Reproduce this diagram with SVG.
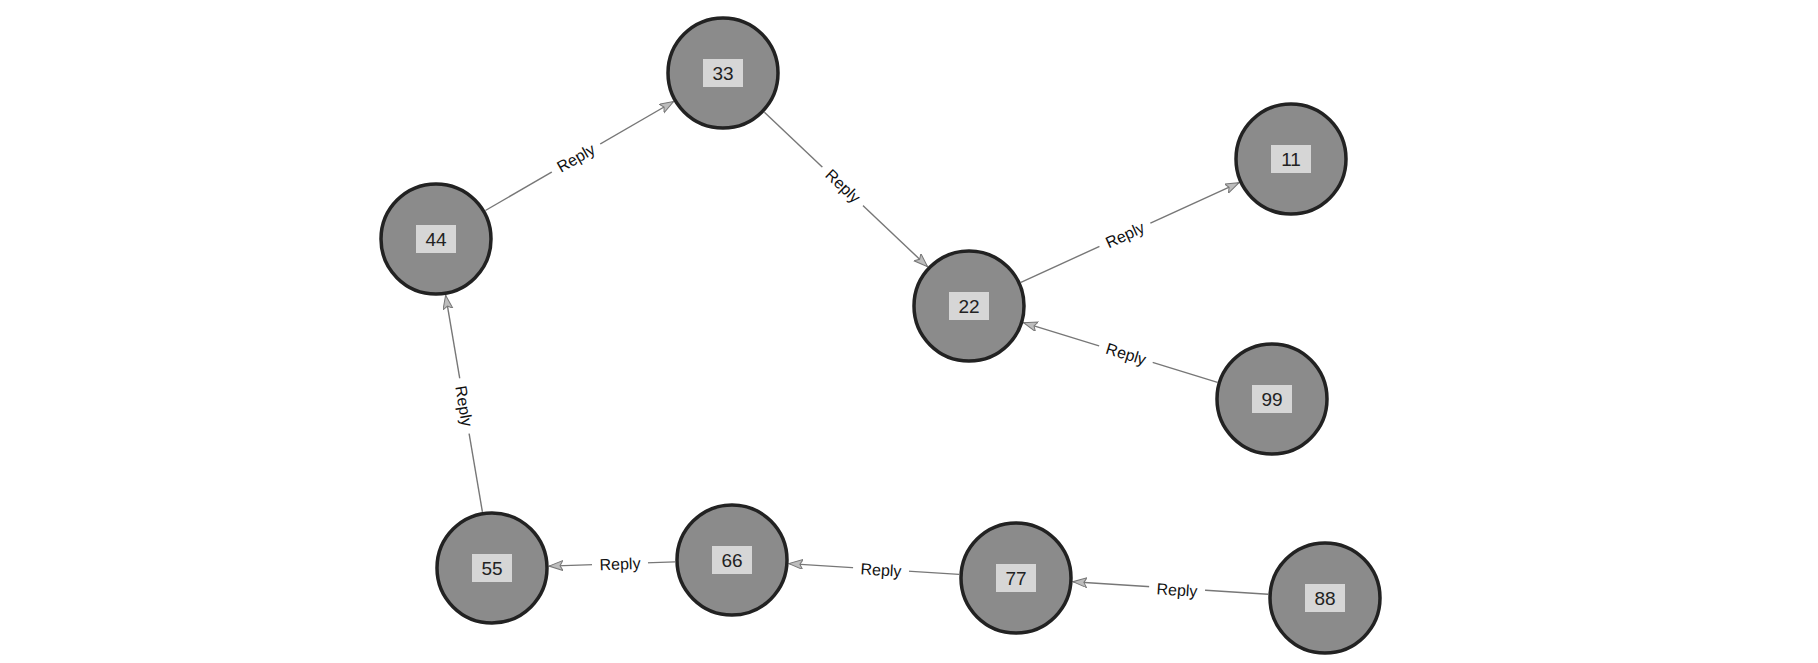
<svg xmlns="http://www.w3.org/2000/svg" width="1818" height="663" viewBox="0 0 1818 663">
<defs>
<style>
.node circle{fill:#8b8b8b;stroke:#222;stroke-width:3.5}
.node rect{fill:#d6d6d6}
.node text{font-family:"Liberation Sans",Arial,sans-serif;font-size:19px;fill:#222;text-anchor:middle;dominant-baseline:central}
.edge line{stroke:#777;stroke-width:1.4;marker-end:url(#arr)}
.lbl rect{fill:#fff}
.lbl text{font-family:"Liberation Sans",Arial,sans-serif;font-size:16px;fill:#111;text-anchor:middle;dominant-baseline:central}
</style>
<marker id="arr" markerUnits="userSpaceOnUse" markerWidth="16" markerHeight="12" refX="14" refY="5" orient="auto">
<path d="M0,0 L14,5 L0,10 L3,5 Z" fill="#bdbdbd" stroke="#777" stroke-width="1"/>
</marker>
</defs>
<rect width="1818" height="663" fill="#fff"/>
<g id="connectors">
<g class="edge"><line x1="485.4" y1="210.5" x2="673.6" y2="101.5"/></g>
<g class="lbl" transform="translate(576,158) rotate(-30)"><rect x="-28" y="-10" width="56" height="20"/><text>Reply</text></g>
<g class="edge"><line x1="764.4" y1="112.2" x2="927.6" y2="266.8"/></g>
<g class="lbl" transform="translate(843,186) rotate(43.4)"><rect x="-28" y="-10" width="56" height="20"/><text>Reply</text></g>
<g class="edge"><line x1="1020.9" y1="282.3" x2="1239.1" y2="182.7"/></g>
<g class="lbl" transform="translate(1125,235) rotate(-24.5)"><rect x="-28" y="-10" width="56" height="20"/><text>Reply</text></g>
<g class="edge"><line x1="1217.5" y1="382.3" x2="1023.5" y2="322.7"/></g>
<g class="lbl" transform="translate(1126,354) rotate(17.1)"><rect x="-28" y="-10" width="56" height="20"/><text>Reply</text></g>
<g class="edge"><line x1="482.4" y1="511.8" x2="445.6" y2="295.2"/></g>
<g class="lbl" transform="translate(464,406) rotate(80.3)"><rect x="-28" y="-10" width="56" height="20"/><text>Reply</text></g>
<g class="edge"><line x1="675" y1="561.9" x2="549" y2="566.1"/></g>
<g class="lbl" transform="translate(620,564) rotate(-1.9)"><rect x="-28" y="-10" width="56" height="20"/><text>Reply</text></g>
<g class="edge"><line x1="959.1" y1="574.4" x2="788.9" y2="563.6"/></g>
<g class="lbl" transform="translate(881,570) rotate(3.6)"><rect x="-28" y="-10" width="56" height="20"/><text>Reply</text></g>
<g class="edge"><line x1="1268.1" y1="594.3" x2="1072.9" y2="581.7"/></g>
<g class="lbl" transform="translate(1177,590) rotate(3.7)"><rect x="-28" y="-10" width="56" height="20"/><text>Reply</text></g>
</g>
<g id="n33" class="node" transform="translate(723,73)"><circle r="55"/><rect x="-20" y="-14" width="40" height="28"/><text>33</text></g>
<g id="n44" class="node" transform="translate(436,239)"><circle r="55"/><rect x="-20" y="-14" width="40" height="28"/><text>44</text></g>
<g id="n22" class="node" transform="translate(969,306)"><circle r="55"/><rect x="-20" y="-14" width="40" height="28"/><text>22</text></g>
<g id="n11" class="node" transform="translate(1291,159)"><circle r="55"/><rect x="-20" y="-14" width="40" height="28"/><text>11</text></g>
<g id="n99" class="node" transform="translate(1272,399)"><circle r="55"/><rect x="-20" y="-14" width="40" height="28"/><text>99</text></g>
<g id="n55" class="node" transform="translate(492,568)"><circle r="55"/><rect x="-20" y="-14" width="40" height="28"/><text>55</text></g>
<g id="n66" class="node" transform="translate(732,560)"><circle r="55"/><rect x="-20" y="-14" width="40" height="28"/><text>66</text></g>
<g id="n77" class="node" transform="translate(1016,578)"><circle r="55"/><rect x="-20" y="-14" width="40" height="28"/><text>77</text></g>
<g id="n88" class="node" transform="translate(1325,598)"><circle r="55"/><rect x="-20" y="-14" width="40" height="28"/><text>88</text></g>
</svg>
